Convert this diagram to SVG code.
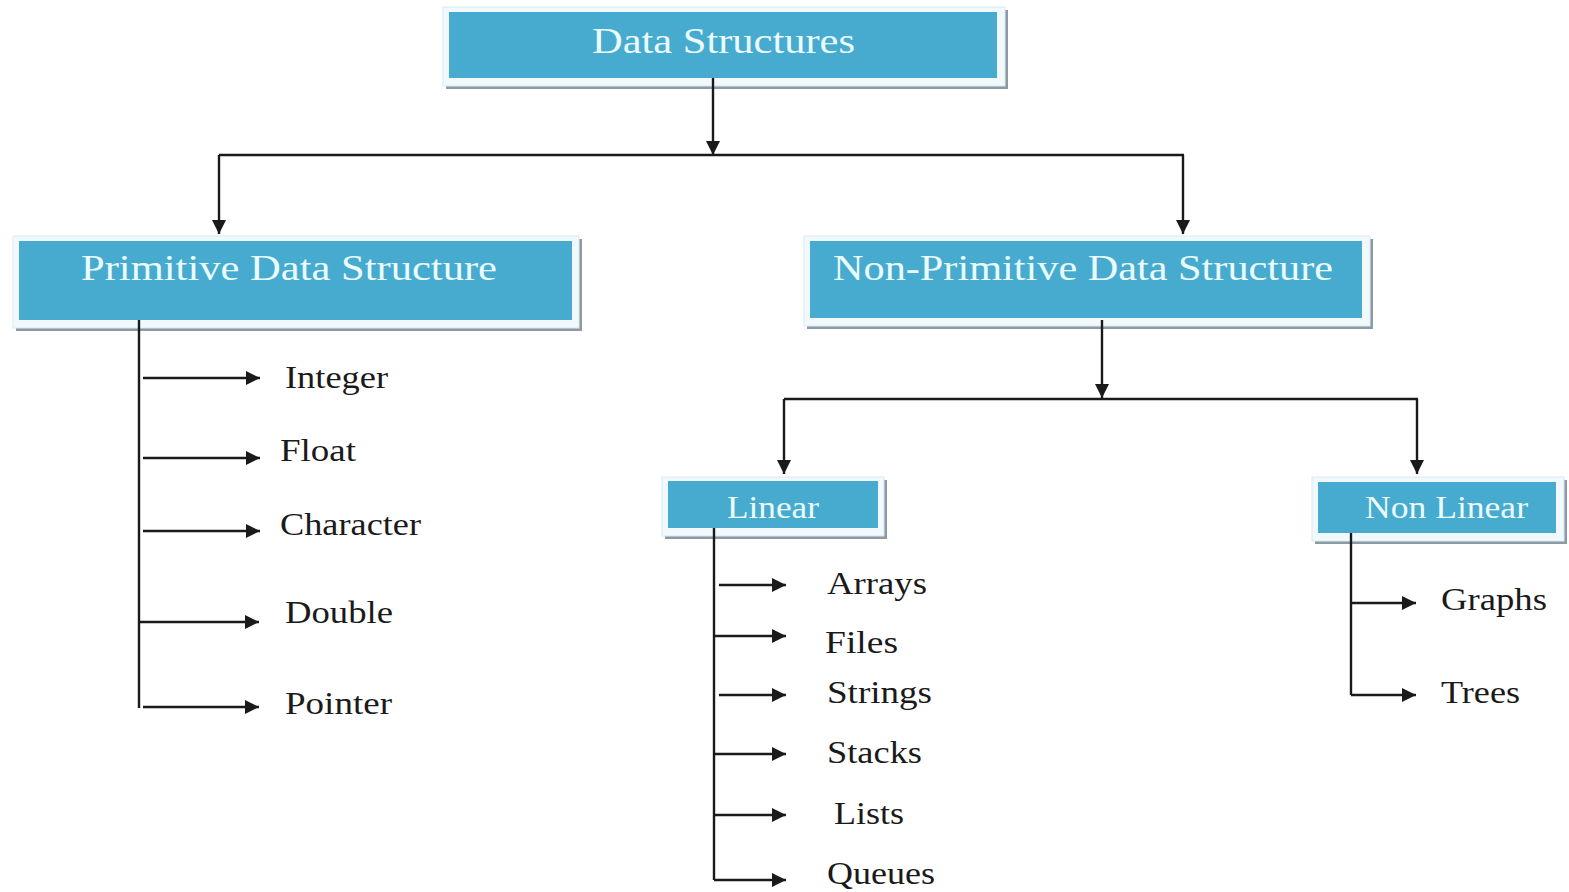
<svg xmlns="http://www.w3.org/2000/svg" width="1569" height="892" viewBox="0 0 1569 892">
  <defs>
    <marker id="arrow" viewBox="0 0 10 10" refX="10" refY="5" markerWidth="17" markerHeight="14" markerUnits="userSpaceOnUse" orient="auto">
      <path d="M0,0 L10,5 L0,10 z" fill="#1a1a1a"/>
    </marker>
  </defs>
  <style>
    .shadow { fill: #8e9aa3; }
    .frame { fill: #f1f9fc; stroke: #d6ecf5; stroke-width: 1; }
    .box { fill: #47abcf; }
    .title { font-family: "Liberation Serif", "DejaVu Serif", serif; fill: #eafcff; }
    .item { font-family: "Liberation Serif", "DejaVu Serif", serif; fill: #1a1a1a; font-size: 32px; }
    .wire { fill: none; stroke: #1a1a1a; stroke-width: 2.4; }
    .arr { marker-end: url(#arrow); }
  </style>
  <rect width="1569" height="892" fill="#ffffff"/>

  <!-- boxes -->
  <g id="data-structures">
    <rect class="shadow" x="446" y="10" width="562" height="79"/>
    <rect class="frame" x="443" y="7" width="562" height="79"/>
    <rect class="box" x="449" y="12" width="548" height="66"/>
    <text class="title" x="592" y="53" font-size="36" textLength="263" lengthAdjust="spacingAndGlyphs">Data Structures</text>
  </g>
  <g id="primitive">
    <rect class="shadow" x="16" y="239" width="566" height="92"/>
    <rect class="frame" x="13" y="236" width="566" height="92"/>
    <rect class="box" x="19" y="241" width="553" height="79"/>
    <text class="title" x="81" y="280" font-size="36" textLength="416" lengthAdjust="spacingAndGlyphs">Primitive  Data Structure</text>
  </g>
  <g id="non-primitive">
    <rect class="shadow" x="807" y="239" width="566" height="90"/>
    <rect class="frame" x="804" y="236" width="566" height="90"/>
    <rect class="box" x="810" y="241" width="552" height="77"/>
    <text class="title" x="833" y="280" font-size="36" textLength="500" lengthAdjust="spacingAndGlyphs">Non-Primitive  Data Structure</text>
  </g>
  <g id="linear">
    <rect class="shadow" x="665" y="480" width="222" height="59"/>
    <rect class="frame" x="662" y="477" width="222" height="59"/>
    <rect class="box" x="668" y="481" width="210" height="47"/>
    <text class="title" x="727" y="518" font-size="31" textLength="92" lengthAdjust="spacingAndGlyphs">Linear</text>
  </g>
  <g id="non-linear">
    <rect class="shadow" x="1315" y="480" width="252" height="64"/>
    <rect class="frame" x="1312" y="477" width="252" height="64"/>
    <rect class="box" x="1318" y="482" width="238" height="51"/>
    <text class="title" x="1365" y="518" font-size="31" textLength="163" lengthAdjust="spacingAndGlyphs">Non Linear</text>
  </g>

  <!-- leaf labels -->
  <g id="integer"><text class="item" x="285" y="388" textLength="103" lengthAdjust="spacingAndGlyphs">Integer</text></g>
  <g id="float"><text class="item" x="280" y="461" textLength="76" lengthAdjust="spacingAndGlyphs">Float</text></g>
  <g id="character"><text class="item" x="280" y="535" textLength="141" lengthAdjust="spacingAndGlyphs">Character</text></g>
  <g id="double"><text class="item" x="285" y="623" textLength="108" lengthAdjust="spacingAndGlyphs">Double</text></g>
  <g id="pointer"><text class="item" x="285" y="714" textLength="107" lengthAdjust="spacingAndGlyphs">Pointer</text></g>

  <g id="arrays"><text class="item" x="827" y="594" textLength="100" lengthAdjust="spacingAndGlyphs">Arrays</text></g>
  <g id="files"><text class="item" x="825" y="653" textLength="73" lengthAdjust="spacingAndGlyphs">Files</text></g>
  <g id="strings"><text class="item" x="827" y="703" textLength="105" lengthAdjust="spacingAndGlyphs">Strings</text></g>
  <g id="stacks"><text class="item" x="827" y="763" textLength="95" lengthAdjust="spacingAndGlyphs">Stacks</text></g>
  <g id="lists"><text class="item" x="834" y="824" textLength="70" lengthAdjust="spacingAndGlyphs">Lists</text></g>
  <g id="queues"><text class="item" x="827" y="884" textLength="108" lengthAdjust="spacingAndGlyphs">Queues</text></g>

  <g id="graphs"><text class="item" x="1441" y="610" textLength="106" lengthAdjust="spacingAndGlyphs">Graphs</text></g>
  <g id="trees"><text class="item" x="1441" y="703" textLength="79" lengthAdjust="spacingAndGlyphs">Trees</text></g>

  <!-- connectors -->
  <g id="connectors">
    <path class="wire arr" d="M713,78 L713,155"/>
    <path class="wire" d="M219,155 L1184,155"/>
    <path class="wire arr" d="M219,155 L219,234"/>
    <path class="wire arr" d="M1183,155 L1183,234"/>

    <path class="wire" d="M139,320 L139,708"/>
    <path class="wire arr" d="M143,378 L260,378"/>
    <path class="wire arr" d="M143,458 L260,458"/>
    <path class="wire arr" d="M143,531 L260,531"/>
    <path class="wire arr" d="M139,622 L259,622"/>
    <path class="wire arr" d="M143,707 L259,707"/>

    <path class="wire arr" d="M1102,320 L1102,398"/>
    <path class="wire" d="M784,399 L1418,399"/>
    <path class="wire arr" d="M784,399 L784,474"/>
    <path class="wire arr" d="M1417,399 L1417,474"/>

    <path class="wire" d="M714,528 L714,880"/>
    <path class="wire arr" d="M719,585 L786,585"/>
    <path class="wire arr" d="M714,636 L786,636"/>
    <path class="wire arr" d="M719,695 L786,695"/>
    <path class="wire arr" d="M714,754 L786,754"/>
    <path class="wire arr" d="M714,815 L786,815"/>
    <path class="wire arr" d="M714,880 L786,880"/>

    <path class="wire" d="M1351,533 L1351,695"/>
    <path class="wire arr" d="M1351,603 L1416,603"/>
    <path class="wire arr" d="M1351,695 L1416,695"/>
  </g>
</svg>
